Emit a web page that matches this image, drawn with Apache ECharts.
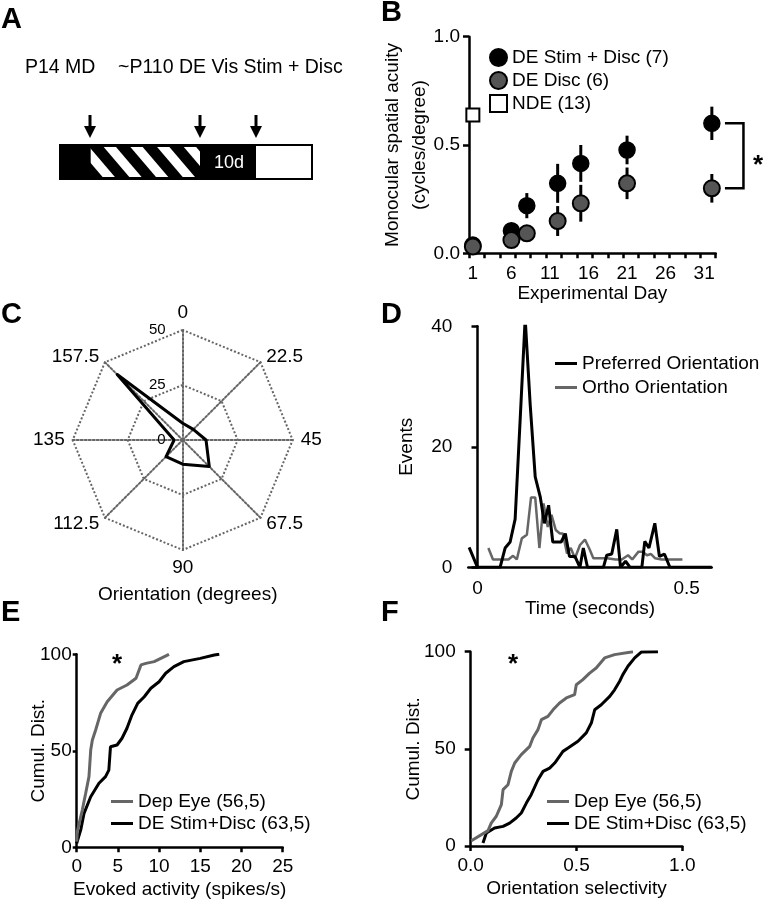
<!DOCTYPE html>
<html><head><meta charset="utf-8">
<script src="https://cdn.jsdelivr.net/npm/echarts@6/dist/echarts.min.js"></script>
<style>html,body{margin:0;padding:0;background:#fff}#c{width:770px;height:901px}</style>
</head><body><div id="c"></div>
<script>
const FONT = "'Liberation Sans', Arial, Helvetica, sans-serif";

// ---------- Panel B: acuity over days ----------
const bDays = [1, 6, 8, 12, 15, 21, 32];
const bStimMean = [0.038, 0.104, 0.22, 0.323, 0.415, 0.477, 0.6];
const bStimErr = [0.01, 0.02, 0.058, 0.09, 0.085, 0.066, 0.077];
const bDiscMean = [0.031, 0.061, 0.092, 0.149, 0.231, 0.323, 0.3];
const bDiscErr = [0.01, 0.02, 0.02, 0.069, 0.085, 0.073, 0.066];
const bNdeDay = [1];
const bNdeMean = [0.638];
const bXLabels = [1, 6, 11, 16, 21, 26, 31];
const bXTicks = [0.5, 2.5, 4.5, 6.5, 8.5, 10.5, 12.5, 14.5, 16.5, 18.5, 20.5, 22.5, 24.5, 26.5, 28.5, 30.5, 32.5];
const bNames = ['DE Stim + Disc (7)', 'DE Disc (6)', 'NDE (13)'];

// ---------- Panel C: orientation tuning ----------
const cOrient = ['0', '22.5', '45', '67.5', '90', '112.5', '135', '157.5'];
const cResp = [7.6, 6.8, 10.6, 17.1, 11, 10.7, 3.9, 42.1];

// ---------- Panel D: PSTH ----------
const dPrefT = [-0.02, 0, 0.054, 0.066, 0.078, 0.09, 0.102, 0.114, 0.126, 0.138, 0.15, 0.16, 0.17, 0.18, 0.2, 0.21, 0.22, 0.233, 0.245, 0.253, 0.263, 0.301, 0.309, 0.321, 0.333, 0.342, 0.354, 0.365, 0.393, 0.4, 0.41, 0.424, 0.435, 0.447, 0.46, 0.56];
const dPrefV = [3.3, 0, 0, 3.2, 4.2, 8, 24.5, 41.3, 27, 15, 11.7, 7.3, 10.3, 4.2, 4.2, 5.6, 1.8, 1.8, 0, 3.2, 0, 0, 2, 2.2, 6.3, 0, 1, 0, 0, 4.3, 3.2, 7.3, 1.8, 2.2, 0, 0];
const dOrthoT = [0.026, 0.037, 0.074, 0.085, 0.094, 0.106, 0.118, 0.128, 0.138, 0.148, 0.158, 0.168, 0.177, 0.187, 0.197, 0.204, 0.214, 0.223, 0.233, 0.245, 0.257, 0.268, 0.277, 0.31, 0.33, 0.345, 0.36, 0.37, 0.385, 0.395, 0.405, 0.415, 0.425, 0.44, 0.49];
const dOrthoV = [3.2, 1.3, 1.3, 1.9, 1.3, 4.8, 5.4, 11.6, 11.6, 3.2, 10.6, 6.7, 8.7, 6.2, 5.6, 5.6, 2.3, 3.2, 1.5, 3.7, 4.6, 3, 1.5, 1.5, 1.3, 1.3, 2, 1.3, 2.6, 2.6, 2, 2.2, 1.5, 1.3, 1.3];
const dNames = ['Preferred Orientation', 'Ortho Orientation'];

// ---------- Panel E: evoked activity CDF ----------
const eDepX = [0, 0.07, 0.68, 1.09, 1.49, 1.7, 1.9, 2.3, 2.9, 3.7, 4.9, 6.1, 7.2, 7.8, 8.4, 9.4, 11.2];
const eDepY = [2.9, 8.1, 19.3, 28, 36.6, 50.4, 55.6, 60.8, 69.4, 75.4, 81.5, 84.1, 87.6, 94.5, 95.3, 96.2, 100];
const eStimX = [0, 0.49, 0.89, 1.7, 2.7, 3.5, 3.9, 4.1, 4.9, 5.5, 6.1, 6.7, 7.4, 8.2, 9, 10, 10.8, 11.8, 13, 15, 16.7, 17.3];
const eStimY = [2, 9, 17.6, 26.2, 33.2, 36.6, 40, 52.1, 53, 56.5, 61.7, 68.5, 74.6, 78, 82.4, 85.8, 90.2, 93.6, 96.2, 97.9, 99.6, 100];

// ---------- Panel F: orientation selectivity CDF ----------
const fDepX = [0.003, 0.082, 0.097, 0.121, 0.145, 0.153, 0.176, 0.192, 0.208, 0.239, 0.279, 0.294, 0.318, 0.334, 0.365, 0.389, 0.42, 0.452, 0.491, 0.499, 0.53, 0.562, 0.593, 0.633, 0.68, 0.767];
const fDepY = [2.7, 7.9, 11.8, 15.3, 21.3, 29, 31.5, 38.4, 42.7, 47, 51.3, 55.6, 59.9, 65, 66.7, 70.1, 73.6, 76.2, 77.9, 83, 85.6, 89, 91.6, 96.8, 98.5, 100];
const fStimX = [0.058, 0.074, 0.113, 0.153, 0.184, 0.215, 0.239, 0.263, 0.286, 0.318, 0.342, 0.373, 0.397, 0.436, 0.46, 0.507, 0.546, 0.57, 0.586, 0.617, 0.657, 0.68, 0.704, 0.719, 0.743, 0.775, 0.806, 0.885];
const fStimY = [1.5, 6.7, 9.3, 10.1, 11.8, 14.4, 17, 22.1, 26.4, 34.1, 38.4, 40.1, 42.7, 48.7, 50.4, 53.9, 58.2, 63.3, 70.1, 72.7, 77, 80.4, 84.8, 88.2, 92.5, 96.8, 99.8, 100];
const cdfNames = ['Dep Eye (56,5)', 'DE Stim+Disc (63,5)'];

const GRAY = '#666';
const zip = (a, b) => a.map((v, i) => [v, b[i]]);

const axisLine = { show: true, lineStyle: { color: '#000', width: 2.5 } };
const axisTick = (len) => ({ show: true, length: len, lineStyle: { color: '#000', width: 2.5 } });
const lab = (margin, extra) => Object.assign({ color: '#000', fontSize: 19, fontFamily: FONT, margin: margin }, extra || {});
const nameStyle = { color: '#000', fontSize: 19, fontFamily: FONT };

function errRender(params, api) {
  const x = api.value(0), y = api.value(1), e = api.value(2);
  const p1 = api.coord([x, y - e]), p2 = api.coord([x, y + e]);
  return { type: 'line', shape: { x1: p1[0], y1: p1[1], x2: p2[0], y2: p2[1] }, style: { stroke: '#000', lineWidth: 3 } };
}
function bracketRender(params, api) {
  const x0 = api.value(0), x1 = api.value(1), yTop = api.value(2), yBot = api.value(3);
  const pts = [api.coord([x0, yTop]), api.coord([x1, yTop]), api.coord([x1, yBot]), api.coord([x0, yBot])];
  return { type: 'polyline', shape: { points: pts }, style: { stroke: '#000', lineWidth: 2.5, fill: null } };
}

// radar indicators go counter-clockwise in ECharts: reorder so labels run clockwise
const cOrder = [0, 7, 6, 5, 4, 3, 2, 1];

const chart = echarts.init(document.getElementById('c'), null, { renderer: 'canvas' });

const letters = ['A', 'B', 'C', 'D', 'E', 'F'];
const letterPos = [[1, 20], [381, 13], [1, 315], [381, 315], [1, 613], [381, 613]];

const graphic = [];
letters.forEach((L, i) => graphic.push({ type: 'text', x: letterPos[i][0], y: letterPos[i][1],
  style: { text: L, fill: '#000', font: 'bold 29px ' + FONT, verticalAlign: 'middle' } }));
// Panel A schematic
graphic.push({ type: 'text', x: 25, y: 68, style: { text: 'P14 MD', fill: '#000', font: '19.5px ' + FONT, verticalAlign: 'middle' } });
graphic.push({ type: 'text', x: 118, y: 68, style: { text: '~P110 DE Vis Stim + Disc', fill: '#000', font: '19.5px ' + FONT, verticalAlign: 'middle' } });
[90, 200, 256].forEach(ax => {
  graphic.push({ type: 'line', shape: { x1: ax, y1: 115, x2: ax, y2: 130 }, style: { stroke: '#000', lineWidth: 3 } });
  graphic.push({ type: 'polygon', shape: { points: [[ax - 6, 126], [ax + 6, 126], [ax, 138]] }, style: { fill: '#000' } });
});
graphic.push({ type: 'rect', shape: { x: 59, y: 144, width: 254, height: 36 }, style: { fill: '#000' } });
for (let k = 0; k < 5; k++) {
  const tl = 77 + 26.7 * k;
  graphic.push({ type: 'polygon', shape: { points: [[tl, 147], [tl + 12.3, 147], [tl + 37.9, 177], [tl + 25.6, 177]] }, style: { fill: '#fff' } });
}
graphic.push({ type: 'rect', shape: { x: 59, y: 144, width: 31.7, height: 36 }, style: { fill: '#000' } });
graphic.push({ type: 'rect', shape: { x: 200, y: 144, width: 56, height: 36 }, style: { fill: '#000' } });
graphic.push({ type: 'rect', shape: { x: 256, y: 146, width: 55, height: 32 }, style: { fill: '#fff' } });
graphic.push({ type: 'text', x: 229, y: 163, style: { text: '10d', fill: '#fff', font: '18px ' + FONT, align: 'center', verticalAlign: 'middle' } });
// significance stars
graphic.push({ type: 'text', x: 758, y: 166, style: { text: '*', fill: '#000', font: 'bold 26px ' + FONT, align: 'center', verticalAlign: 'middle' } });
graphic.push({ type: 'text', x: 117, y: 665, style: { text: '*', fill: '#000', font: 'bold 26px ' + FONT, align: 'center', verticalAlign: 'middle' } });
graphic.push({ type: 'text', x: 513, y: 665, style: { text: '*', fill: '#000', font: 'bold 26px ' + FONT, align: 'center', verticalAlign: 'middle' } });

const option = {
  animation: false,
  backgroundColor: '#fff',
  textStyle: { fontFamily: FONT },
  graphic: graphic,
  grid: [
    { left: 469, top: 36.7, width: 246.7, height: 216.6, outerBoundsMode: 'none' },
    { left: 468.3, top: 326.3, width: 243.4, height: 241, outerBoundsMode: 'none' },
    { left: 76.7, top: 654.3, width: 206, height: 193, outerBoundsMode: 'none' },
    { left: 470.7, top: 651.7, width: 211.6, height: 194.3, outerBoundsMode: 'none' }
  ],
  xAxis: [
    { gridIndex: 0, type: 'value', min: 0.5, max: 32.5, axisLine, axisTick: Object.assign(axisTick(5), { customValues: bXTicks }),
      axisLabel: lab(11, { customValues: bXLabels }), splitLine: { show: false },
      name: 'Experimental Day', nameLocation: 'middle', nameGap: 30, nameTextStyle: nameStyle },
    { gridIndex: 1, type: 'value', min: -0.022, max: 0.56, axisLine, axisTick: { show: false },
      axisLabel: lab(12, { customValues: [0, 0.5], formatter: v => (v === 0 ? '0' : String(v)) }), splitLine: { show: false },
      name: 'Time (seconds)', nameLocation: 'middle', nameGap: 32, nameTextStyle: nameStyle },
    { gridIndex: 2, type: 'value', min: 0, max: 25, interval: 5, axisLine, axisTick: axisTick(5),
      axisLabel: lab(10), splitLine: { show: false },
      name: 'Evoked activity (spikes/s)', nameLocation: 'middle', nameGap: 33, nameTextStyle: nameStyle },
    { gridIndex: 3, type: 'value', min: 0, max: 1, interval: 0.5, axisLine, axisTick: axisTick(5),
      axisLabel: lab(10, { formatter: v => v.toFixed(1) }), splitLine: { show: false },
      name: 'Orientation selectivity', nameLocation: 'middle', nameGap: 33, nameTextStyle: nameStyle }
  ],
  yAxis: [
    { gridIndex: 0, type: 'value', min: 0, max: 1, interval: 0.5, axisLine, axisTick: axisTick(6),
      axisLabel: lab(9, { formatter: v => v.toFixed(1) }), splitLine: { show: false },
      name: 'Monocular spatial acuity\n(cycles/degree)', nameLocation: 'middle', nameGap: 36, nameMoveOverlap: false,
      nameTextStyle: Object.assign({ lineHeight: 27 }, nameStyle) },
    { gridIndex: 1, type: 'value', min: 0, max: 40, interval: 20, axisLine, axisTick: axisTick(6),
      axisLabel: lab(16), splitLine: { show: false },
      name: 'Events', nameLocation: 'middle', nameGap: 52, nameMoveOverlap: false, nameTextStyle: nameStyle },
    { gridIndex: 2, type: 'value', min: 0, max: 100, interval: 50, axisLine, axisTick: axisTick(4),
      axisLabel: lab(5), splitLine: { show: false },
      name: 'Cumul. Dist.', nameLocation: 'middle', nameGap: 28, nameMoveOverlap: false, nameTextStyle: nameStyle },
    { gridIndex: 3, type: 'value', min: 0, max: 100, interval: 50, axisLine, axisTick: axisTick(6),
      axisLabel: lab(15), splitLine: { show: false },
      name: 'Cumul. Dist.', nameLocation: 'middle', nameGap: 47, nameMoveOverlap: false, nameTextStyle: nameStyle }
  ],
  radar: {
    center: [182.7, 440], radius: 110, shape: 'polygon', splitNumber: 2, startAngle: 90,
    indicator: cOrder.map((i, j) => {
      const o = { name: cOrient[i], min: 0, max: 50 };
      if (j === 0) o.axisLabel = { show: true, color: '#000', fontSize: 15, fontFamily: FONT, margin: 17, showMinLabel: true };
      return o;
    }),
    axisName: { color: '#000', fontSize: 19, fontFamily: FONT },
    nameGap: 8,
    axisLine: { lineStyle: { color: '#666', type: 'dotted', width: 2 } },
    splitLine: { lineStyle: { color: '#666', type: 'dotted', width: 2 } },
    splitArea: { show: false },
    axisTick: { show: false },
    axisLabel: { show: false }
  },
  title: [
    { text: 'Orientation (degrees)', left: 182.7, top: 580, textAlign: 'center',
      textStyle: { color: '#000', fontSize: 19, fontWeight: 'normal', fontFamily: FONT } }
  ],
  legend: [
    { data: bNames, orient: 'vertical', left: 484, top: 43, itemWidth: 17, itemHeight: 17, itemGap: 4,
      textStyle: { color: '#000', fontSize: 19, fontFamily: FONT }, selectedMode: false },
    { data: dNames, orient: 'vertical', left: 550, top: 349, itemWidth: 22, itemHeight: 3, itemGap: 5, icon: 'rect',
      textStyle: { color: '#000', fontSize: 19, fontFamily: FONT }, selectedMode: false },
    { data: cdfNames, orient: 'vertical', left: 106, top: 787, itemWidth: 22, itemHeight: 3, itemGap: 3, icon: 'rect',
      textStyle: { color: '#000', fontSize: 19, fontFamily: FONT }, selectedMode: false },
    { data: cdfNames, orient: 'vertical', left: 542, top: 787, itemWidth: 22, itemHeight: 3, itemGap: 3, icon: 'rect',
      textStyle: { color: '#000', fontSize: 19, fontFamily: FONT }, selectedMode: false }
  ],
  series: [
    // Panel B
    { type: 'custom', name: 'stimErr', xAxisIndex: 0, yAxisIndex: 0, renderItem: errRender,
      data: bDays.map((d, i) => [d, bStimMean[i], bStimErr[i]]), z: 2 },
    { type: 'scatter', name: bNames[0], xAxisIndex: 0, yAxisIndex: 0, symbol: 'circle', symbolSize: 16,
      itemStyle: { color: '#000', borderColor: '#000', borderWidth: 1.5, opacity: 1 }, data: zip(bDays, bStimMean), z: 3 },
    { type: 'custom', name: 'discErr', xAxisIndex: 0, yAxisIndex: 0, renderItem: errRender,
      data: bDays.map((d, i) => [d, bDiscMean[i], bDiscErr[i]]), z: 4 },
    { type: 'scatter', name: bNames[1], xAxisIndex: 0, yAxisIndex: 0, symbol: 'circle', symbolSize: 16,
      itemStyle: { color: '#555', borderColor: '#000', borderWidth: 2, opacity: 1 }, data: zip(bDays, bDiscMean), z: 5 },
    { type: 'scatter', name: bNames[2], xAxisIndex: 0, yAxisIndex: 0, symbol: 'rect', symbolSize: 13,
      itemStyle: { color: '#fff', borderColor: '#000', borderWidth: 2, opacity: 1 }, data: zip(bNdeDay, bNdeMean), z: 5 },
    { type: 'custom', name: 'bracket', xAxisIndex: 0, yAxisIndex: 0, renderItem: bracketRender, clip: false, silent: true,
      data: [[33.7, 36.1, bStimMean[6], bDiscMean[6]]] },
    // Panel C
    { type: 'radar', symbol: 'none', lineStyle: { color: '#000', width: 3 }, itemStyle: { color: '#000' },
      data: [{ value: cOrder.map(i => cResp[i]), name: 'tuning' }] },
    // Panel D
    { type: 'line', name: dNames[1], xAxisIndex: 1, yAxisIndex: 1, symbol: 'none', showSymbol: false,
      lineStyle: { color: GRAY, width: 2.5 }, itemStyle: { color: GRAY }, data: zip(dOrthoT, dOrthoV) },
    { type: 'line', name: dNames[0], xAxisIndex: 1, yAxisIndex: 1, symbol: 'none', showSymbol: false,
      lineStyle: { color: '#000', width: 3 }, itemStyle: { color: '#000' }, data: zip(dPrefT, dPrefV) },
    // Panel E
    { type: 'line', name: cdfNames[1], xAxisIndex: 2, yAxisIndex: 2, symbol: 'none', showSymbol: false,
      lineStyle: { color: '#000', width: 3 }, itemStyle: { color: '#000' }, data: zip(eStimX, eStimY) },
    { type: 'line', name: cdfNames[0], xAxisIndex: 2, yAxisIndex: 2, symbol: 'none', showSymbol: false,
      lineStyle: { color: GRAY, width: 3 }, itemStyle: { color: GRAY }, data: zip(eDepX, eDepY) },
    // Panel F
    { type: 'line', name: cdfNames[1], xAxisIndex: 3, yAxisIndex: 3, symbol: 'none', showSymbol: false,
      lineStyle: { color: '#000', width: 3 }, itemStyle: { color: '#000' }, data: zip(fStimX, fStimY) },
    { type: 'line', name: cdfNames[0], xAxisIndex: 3, yAxisIndex: 3, symbol: 'none', showSymbol: false,
      lineStyle: { color: GRAY, width: 3 }, itemStyle: { color: GRAY }, data: zip(fDepX, fDepY) }
  ]
};
chart.setOption(option);
</script>
</body></html>
